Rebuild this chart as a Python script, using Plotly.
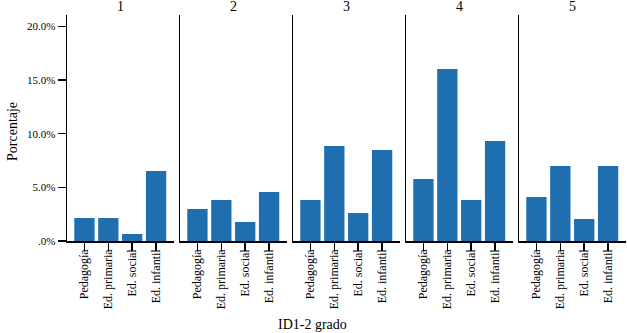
import plotly.graph_objects as go
from plotly.subplots import make_subplots

categories = ["Pedagogía", "Ed. primaria", "Ed. social", "Ed. infantil"]
panels = ["1", "2", "3", "4", "5"]
values_1 = [0.0214, 0.0214, 0.0065, 0.0652]
values_2 = [0.0298, 0.0382, 0.0177, 0.0457]
values_3 = [0.0382, 0.0885, 0.0261, 0.0848]
values_4 = [0.0578, 0.1603, 0.0382, 0.0932]
values_5 = [0.0410, 0.0699, 0.0205, 0.0699]
all_values = [values_1, values_2, values_3, values_4, values_5]
y_tickvals = [0, 0.05, 0.10, 0.15, 0.20]
y_ticktext = [".0%", "5.0%", "10.0%", "15.0%", "20.0%"]

FONT = "Liberation Serif"
W, H = 627, 333
L, R, T, B = 67, 1, 15, 92
pw, ph = W - L - R, H - T - B

fig = make_subplots(rows=1, cols=5, shared_yaxes=True, horizontal_spacing=6 / pw)

for i, vals in enumerate(all_values):
    fig.add_trace(go.Bar(x=categories, y=vals, marker=dict(color="#1f6fb0", line=dict(width=0)),
                         showlegend=False, hoverinfo="skip"), row=1, col=i + 1)
    fig.update_xaxes(row=1, col=i + 1, type="category", range=[-0.73, 3.75],
                     showline=True, linecolor="black", linewidth=1.5,
                     ticks="outside", ticklen=8, tickcolor="black", tickwidth=1.5,
                     tickangle=-90, ticklabelstandoff=-6,
                     tickfont=dict(family=FONT, size=12, color="black"),
                     showgrid=False, zeroline=False)
    fig.update_yaxes(row=1, col=i + 1, range=[0, 0.2106], showline=True, linecolor="black",
                     linewidth=1.5, showgrid=False, zeroline=False,
                     tickvals=y_tickvals, ticktext=y_ticktext,
                     ticks="outside" if i == 0 else "", ticklen=8, tickcolor="black", tickwidth=1.5,
                     showticklabels=(i == 0),
                     tickfont=dict(family=FONT, size=11, color="black"))

annotations = []
for i, p in enumerate(panels):
    dom = fig.layout[("xaxis" if i == 0 else f"xaxis{i+1}")].domain
    annotations.append(dict(text=p, x=(dom[0] + dom[1]) / 2, y=1, xref="paper", yref="paper",
                            xanchor="center", yanchor="bottom", yshift=-1, showarrow=False,
                            font=dict(family=FONT, size=14, color="black")))
annotations.append(dict(text="Porcentaje", x=(12 - L) / pw, y=((H - 132) - B) / ph,
                        xref="paper", yref="paper", xanchor="center", yanchor="middle",
                        showarrow=False, textangle=-90,
                        font=dict(family=FONT, size=14, color="black")))
annotations.append(dict(text="ID1-2 grado", x=(312 - L) / pw, y=((H - 324) - B) / ph,
                        xref="paper", yref="paper", xanchor="center", yanchor="middle",
                        showarrow=False, font=dict(family=FONT, size=14, color="black")))

fig.update_layout(width=W, height=H, margin=dict(l=L, r=R, t=T, b=B),
                  paper_bgcolor="white", plot_bgcolor="white", bargap=0.15,
                  font=dict(family=FONT, color="black"), annotations=annotations,
                  hovermode=False)
fig.write_html("out.html", config={"displayModeBar": False, "staticPlot": True},
               post_script="document.body.style.margin='0';")
